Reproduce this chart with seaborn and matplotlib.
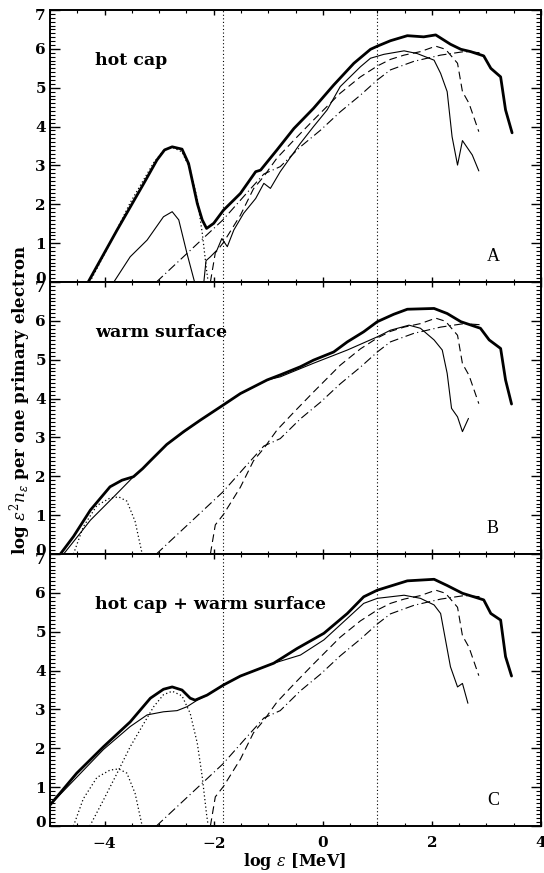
import numpy as np
import matplotlib
matplotlib.use('Agg')
import matplotlib.pyplot as plt
import matplotlib.transforms as mtransforms
from matplotlib.ticker import MultipleLocator
import seaborn as sns

# ---- dados (log eps [MeV], log eps^2 n_eps) ----

# curva grossa (total), painel A
a_tot_x = [-4.30, -3.77, -3.28, -3.04, -2.90, -2.76, -2.58, -2.46, -2.30, -2.21, -2.13, -2.00, -1.82, -1.51,
           -1.23, -1.14, -0.84, -0.53, -0.17, 0.20, 0.57, 0.875, 1.00, 1.24, 1.55, 1.85, 2.07, 2.34,
           2.53, 2.71, 2.95, 3.08, 3.26, 3.35, 3.47]
a_tot_y = [0.00, 1.34, 2.54, 3.14, 3.40, 3.48, 3.42, 3.05, 2.02, 1.60, 1.38, 1.51, 1.85, 2.28,
           2.84, 2.88, 3.40, 3.95, 4.47, 5.07, 5.63, 5.99, 6.07, 6.21, 6.34, 6.31, 6.36, 6.12,
           5.99, 5.93, 5.82, 5.50, 5.28, 4.43, 3.84]

# curva fina, painel A
a_fin_x = [-3.83, -3.53, -3.22, -2.92, -2.76, -2.64, -2.49, -2.35, -2.18, -2.14, -2.06, -1.94, -1.85,
           -1.75, -1.63, -1.45, -1.23, -1.08, -0.96, -0.78, -0.41, -0.17, 0.08, 0.32, 0.69, 0.875,
           1.12, 1.49, 1.73, 2.04, 2.16, 2.28, 2.37, 2.47, 2.56, 2.74, 2.86]
a_fin_y = [0.00, 0.65, 1.08, 1.68, 1.81, 1.60, 0.74, 0.00, 0.00, 0.55, 0.65, 0.82, 1.12,
           0.91, 1.34, 1.77, 2.15, 2.54, 2.41, 2.84, 3.57, 4.00, 4.43, 5.03, 5.54, 5.76,
           5.86, 5.95, 5.88, 5.71, 5.37, 4.90, 3.74, 3.01, 3.64, 3.27, 2.86]

# curva grossa, painel B
b_tot_x = [-4.81, -4.57, -4.26, -3.90, -3.68, -3.47, -3.30, -3.16, -2.86, -2.55, -2.24, -1.83, -1.51, -1.02,
           -0.78, -0.41, -0.17, 0.20, 0.45, 0.75, 1.00, 1.30, 1.55, 2.04, 2.28, 2.53, 2.89, 3.05, 3.26, 3.35, 3.46]
b_tot_y = [0.00, 0.45, 1.13, 1.73, 1.90, 1.99, 2.20, 2.40, 2.82, 3.15, 3.45, 3.83, 4.13, 4.48,
           4.61, 4.82, 4.99, 5.20, 5.46, 5.72, 5.98, 6.17, 6.30, 6.32, 6.19, 5.98, 5.81, 5.51, 5.29, 4.48, 3.86]

# curva fina, painel B
b_fin_x = [-4.75, -4.45, -4.26, -3.77, -3.47, -3.30, -3.16, -2.86, -2.24, -1.83, -1.51, -1.02, -0.78, -0.17,
           0.45, 1.00, 1.24, 1.58, 1.79, 2.04, 2.19, 2.28, 2.36, 2.47, 2.56, 2.67]
b_fin_y = [0.00, 0.53, 0.87, 1.56, 1.99, 2.20, 2.40, 2.82, 3.45, 3.83, 4.13, 4.48, 4.56, 4.91,
           5.25, 5.59, 5.76, 5.89, 5.81, 5.51, 5.25, 4.65, 3.75, 3.53, 3.15, 3.49]

# curva grossa, painel C
c_tot_x = [-5.00, -4.51, -4.02, -3.53, -3.16, -2.92, -2.76, -2.58, -2.43, -2.34, -2.12, -1.82, -1.51,
           -0.90, -0.47, 0.02, 0.45, 0.75, 1.00, 1.55, 2.04, 2.28, 2.56, 2.95, 3.08, 3.26, 3.35, 3.46]
c_tot_y = [0.54, 1.36, 2.04, 2.68, 3.29, 3.52, 3.58, 3.50, 3.29, 3.24, 3.37, 3.63, 3.86,
           4.19, 4.57, 4.96, 5.47, 5.90, 6.07, 6.31, 6.35, 6.19, 5.99, 5.82, 5.47, 5.30, 4.36, 3.86]

# curva fina, painel C
c_fin_x = [-5.00, -4.02, -3.53, -3.22, -2.92, -2.67, -2.49, -2.30, -2.12, -1.82, -1.51, -0.90, -0.41,
           0.02, 0.75, 1.00, 1.49, 1.79, 2.04, 2.16, 2.34, 2.47, 2.56, 2.66]
c_fin_y = [0.54, 1.97, 2.56, 2.86, 2.94, 2.97, 3.07, 3.24, 3.37, 3.63, 3.86, 4.19, 4.40,
           4.79, 5.73, 5.86, 5.94, 5.86, 5.69, 5.47, 4.10, 3.58, 3.67, 3.16]

# tracejada (igual nos tres paineis)
tr_x = [-2.06, -1.97, -1.82, -1.51, -1.27, -1.08, -0.84, -0.53, -0.17, 0.32, 0.69, 1.00, 1.24,
        1.49, 1.79, 2.07, 2.25, 2.47, 2.56, 2.68, 2.86]
tr_y = [0.00, 0.75, 1.02, 1.72, 2.40, 2.72, 3.19, 3.65, 4.17, 4.86, 5.28, 5.56, 5.73,
        5.84, 5.93, 6.07, 5.99, 5.63, 4.90, 4.60, 3.87]

# traco-ponto (igual nos tres paineis)
tp_x = [-3.05, -1.83, -1.40, -1.08, -0.78, -0.41, -0.04, 0.32, 0.69, 1.00, 1.24, 1.67, 2.16, 2.59, 2.90]
tp_y = [0.00, 1.60, 2.28, 2.78, 2.97, 3.48, 3.91, 4.38, 4.81, 5.20, 5.46, 5.68, 5.84, 5.93, 5.90]

# pontilhadas: calota quente e superficie morna
calota_x = [-4.27, -4.02, -3.77, -3.53, -3.28, -3.10, -2.92, -2.76, -2.58, -2.43, -2.30, -2.21, -2.13, -2.10]
calota_y = [0.00, 0.67, 1.36, 2.04, 2.64, 3.07, 3.38, 3.47, 3.35, 2.90, 2.13, 1.27, 0.30, 0.00]
morna_x = [-4.57, -4.39, -4.14, -3.90, -3.74, -3.59, -3.44, -3.31]
morna_y = [0.00, 0.70, 1.25, 1.44, 1.47, 1.36, 0.84, 0.00]

titulos = ['hot cap', 'warm surface', 'hot cap + warm surface']
letras = ['A', 'B', 'C']
linhas_verticais = [-1.83, 1.0]

paineis = [
    dict(tot=(a_tot_x, a_tot_y), fin=(a_fin_x, a_fin_y), dots=[(calota_x, calota_y)]),
    dict(tot=(b_tot_x, b_tot_y), fin=(b_fin_x, b_fin_y), dots=[(morna_x, morna_y)]),
    dict(tot=(c_tot_x, c_tot_y), fin=(c_fin_x, c_fin_y), dots=[(morna_x, morna_y), (calota_x, calota_y)]),
]

sns.set_style('white')
plt.rcParams['font.family'] = ['DejaVu Serif']
plt.rcParams['mathtext.fontset'] = 'dejavuserif'
plt.rcParams['text.color'] = 'k'
plt.rcParams['xtick.color'] = 'k'
plt.rcParams['ytick.color'] = 'k'
plt.rcParams['axes.labelcolor'] = 'k'

fig, axes = plt.subplots(3, 1, figsize=(5.44, 8.73), dpi=100, sharex=True)
fig.subplots_adjust(left=0.0919, right=0.9945, bottom=0.0538, top=0.9885, hspace=0)


def linha(ax, x, y, **kw):
    sns.lineplot(x=x, y=y, ax=ax, color='k', sort=False, estimator=None, legend=False, **kw)


for i, ax in enumerate(axes):
    p = paineis[i]
    for xv in linhas_verticais:
        ax.axvline(xv, color='k', lw=0.8, ls=(0, (1, 2.2)))
    for dx, dy in p['dots']:
        linha(ax, dx, dy, lw=0.9, linestyle=(0, (1, 2)))
    linha(ax, tp_x, tp_y, lw=0.8, linestyle=(0, (8, 3, 1, 3)))
    linha(ax, tr_x, tr_y, lw=0.8, linestyle=(0, (7, 4)))
    linha(ax, *p['fin'], lw=0.8)
    linha(ax, *p['tot'], lw=2.0)

    ax.set_xlim(-5, 4)
    ax.set_ylim(0, 7)
    ax.set_yticks(range(8))
    ax.xaxis.set_major_locator(MultipleLocator(2))
    ax.xaxis.set_minor_locator(MultipleLocator(0.5))
    ax.yaxis.set_minor_locator(MultipleLocator(0.1))
    ax.tick_params(axis='y', which='major', direction='in', length=7.2, width=1.0,
                   left=True, right=True, labelsize=11, pad=3, colors='k')
    ax.tick_params(axis='y', which='minor', direction='in', length=3.6, width=0.8, left=True, right=True)
    ax.tick_params(axis='x', which='major', direction='in', length=3.9, width=1.0,
                   bottom=True, top=True, labelsize=11, pad=7, colors='k')
    ax.tick_params(axis='x', which='minor', direction='in', length=2.0, width=0.8, bottom=True, top=True)
    for s in ax.spines.values():
        s.set_linewidth(1.4)
        s.set_color('k')
    for lab in ax.get_yticklabels() + ax.get_xticklabels():
        lab.set_fontweight('bold')
    # rotulos 0 e 7 deslocados como no original
    ticks = ax.yaxis.get_major_ticks()
    ticks[0].label1.set_transform(ticks[0].label1.get_transform()
                                  + mtransforms.ScaledTranslation(0, 3.5 / 72, fig.dpi_scale_trans))
    ticks[7].label1.set_transform(ticks[7].label1.get_transform()
                                  + mtransforms.ScaledTranslation(0, -3.5 / 72, fig.dpi_scale_trans))

    ax.text(-4.17, 5.7, titulos[i], fontsize=12.5, fontweight='bold', ha='left', va='center', color='k')
    ax.text(3.12, 0.66, letras[i], fontsize=13, family='Liberation Serif', ha='center', va='center', color='k')

axes[2].set_xticklabels(['', r'$-$4', r'$-$2', '0', '2', '4'])
for lab in axes[2].get_xticklabels():
    lab.set_fontweight('bold')

fig.text(0.5423, 1 - 862 / 873, r'log $\epsilon$ [MeV]', fontsize=11.5, fontweight='bold',
         ha='center', va='center', color='k')
fig.text(0.037, 1 - 400 / 873, r'log $\epsilon^2 n_\epsilon$ per one primary electron', fontsize=12,
         fontweight='bold', rotation=90, ha='center', va='center', color='k')

fig.savefig('out.png', dpi=100)
